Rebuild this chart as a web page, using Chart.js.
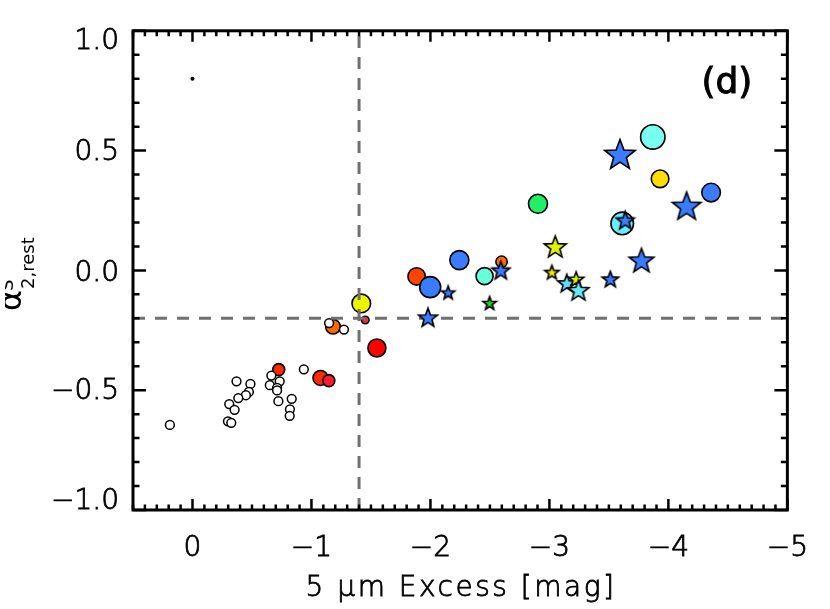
<!DOCTYPE html>
<html>
<head>
<meta charset="utf-8">
<script src="https://cdn.jsdelivr.net/npm/chart.js@4/dist/chart.umd.min.js"></script>
<style>
  html, body { margin:0; padding:0; background:#fff; }
</style>
</head>
<body>
<canvas id="c" width="830" height="609"></canvas>
<script>
// ── DATA ───────────────────────────────────────────────
const xMajor = [0, -1, -2, -3, -4, -5];
const yMajor = [-1.0, -0.5, 0.0, 0.5, 1.0];

// reference lines
const vLineX = -1.4;
const hLineY = -0.2;

// single black dot
const dotX = [0];
const dotY = [0.8];

// open (white) circles
const openX = [0.19, -0.37, -0.487, -0.474, -0.449, -0.385, -0.309, -0.354, -0.298, -0.326,
               -0.663, -0.733, -0.65, -0.711, -0.711, -0.722, -0.834, -0.819, -0.817, -0.936,
               -1.148, -1.273];
const openY = [-0.645, -0.463, -0.474, -0.507, -0.521, -0.533, -0.558, -0.582, -0.63, -0.636,
               -0.439, -0.463, -0.479, -0.49, -0.501, -0.546, -0.536, -0.58, -0.607, -0.413,
               -0.22, -0.247];

// filled circles
const circX = [-0.725, -1.076, -1.146, -1.181, -1.419, -1.452, -1.55, -1.884, -1.998, -2.243,
               -2.455, -2.598, -2.904, -3.612, -3.869, -3.93, -4.359];
const circY = [-0.414, -0.449, -0.46, -0.235, -0.138, -0.207, -0.324, -0.025, -0.07, 0.043,
               -0.024, 0.036, 0.278, 0.196, 0.557, 0.382, 0.325];
const circR = [6, 7.5, 6, 7.3, 9.3, 3.8, 9, 8.7, 10.5, 9.5,
               8.5, 5.7, 9.5, 11.3, 12.2, 8.8, 9.3];
const circColor = ['#ff2a00', '#ff2a00', '#ff1a30', '#ff6a00', '#eef500', '#ee3030', '#ff0000',
                   '#ff4400', '#3a7bff', '#3a7bff', '#66ffd8', '#ff6a00', '#22ee66', '#66eeff',
                   '#77fff0', '#ffdd00', '#3a7bff'];

// stars
const starX = [-1.979, -2.149, -2.497, -2.592, -3.049, -3.021, -3.146, -3.225, -3.244, -3.512,
               -3.774, -3.637, -3.593, -4.153];
const starY = [-0.196, -0.092, -0.136, 0.001, 0.1, -0.007, -0.053, -0.036, -0.082, -0.036,
               0.043, 0.21, 0.486, 0.27];
const starR = [10, 7, 7, 9.5, 11.5, 7.5, 9.6, 8, 11, 8.6, 13, 9.5, 16, 15];
const starColor = ['#3a7bff', '#3a7bff', '#22cc22', '#3a7bff', '#e2f500', '#eeee00', '#66ddff',
                   '#e2f500', '#66e8ff', '#3a7bff', '#3a7bff', '#3a7bff', '#3a7bff', '#3a7bff'];

// y label nudges (IDL keeps end labels inside the box)
const yLabelShift = [-8, 2, 3, 2, 11];

// ── HELPERS ────────────────────────────────────────────
const FONT = '"DejaVu Sans", sans-serif';
const minus = v => (v < 0 ? '\u2212' : '') + Math.abs(v);
const pts = (xs, ys) => xs.map((x, i) => ({ x, y: ys[i] }));

function starImage(r, fill) {
  const s = Math.ceil(r * 2 + 4);
  const c = document.createElement('canvas');
  c.width = c.height = s;
  const g = c.getContext('2d');
  g.translate(s / 2, s / 2 + r * 0.09);
  g.beginPath();
  for (let k = 0; k < 10; k++) {
    const rad = k % 2 ? r * 0.42 : r;
    const ang = -Math.PI / 2 + k * Math.PI / 5;
    g.lineTo(rad * Math.cos(ang), rad * Math.sin(ang));
  }
  g.closePath();
  g.fillStyle = fill;
  g.fill();
  g.lineWidth = 1.6;
  g.strokeStyle = '#000';
  g.stroke();
  return c;
}

// ── FRAME, TICKS, TEXT ─────────────────────────────────
const decor = {
  id: 'decor',
  beforeDraw(chart) {
    const items = chart.scales.y.getLabelItems(chart.chartArea);
    items.forEach((it, i) => { it.options.translation[1] += yLabelShift[i] || 0; });
  },
  afterDraw(chart) {
    const { ctx, chartArea: a, scales: { x, y } } = chart;
    ctx.save();
    ctx.strokeStyle = '#000';
    ctx.lineWidth = 2.5;
    ctx.beginPath();
    for (let i = -50; i <= 5; i++) {
      const px = x.getPixelForValue(i / 10);
      const len = i % 10 === 0 ? 11 : 5.5;
      ctx.moveTo(px, a.bottom); ctx.lineTo(px, a.bottom - len);
      ctx.moveTo(px, a.top);    ctx.lineTo(px, a.top + len);
    }
    for (let i = -10; i <= 10; i++) {
      const py = y.getPixelForValue(i / 10);
      const len = i % 5 === 0 ? 13 : 6.5;
      ctx.moveTo(a.left, py);  ctx.lineTo(a.left + len, py);
      ctx.moveTo(a.right, py); ctx.lineTo(a.right - len, py);
    }
    ctx.stroke();
    ctx.lineWidth = 3;
    ctx.strokeRect(a.left, a.top, a.right - a.left, a.bottom - a.top);

    ctx.fillStyle = '#000';
    // panel label
    ctx.font = '36px ' + FONT;
    ctx.textAlign = 'right';
    ctx.textBaseline = 'alphabetic';
    ctx.lineWidth = 1;
    ctx.fillText('(d)', a.right - 35, 93);
    ctx.strokeText('(d)', a.right - 35, 93);

    // x title
    ctx.font = '300 28px ' + FONT;
    ctx.textAlign = 'center';
    ctx.letterSpacing = '2.5px';
    ctx.lineWidth = 0.8;
    ctx.fillText('5 \u03bcm Excess [mag]', 461, 596);
    ctx.strokeText('5 \u03bcm Excess [mag]', 461, 596);
    ctx.letterSpacing = '0px';

    // y title (rotated)
    ctx.save();
    ctx.beginPath();
    ctx.rect(5, 0, 200, 609);
    ctx.clip();
    ctx.translate(21, 311);
    ctx.rotate(-Math.PI / 2);
    ctx.textAlign = 'left';
    ctx.font = '32px ' + FONT;
    ctx.fillText('\u03b1', 0, 0);
    const w = ctx.measureText('\u03b1').width + 1;
    ctx.font = '18px ' + FONT;
    ctx.fillText('2,rest', w, 13);
    ctx.fillText('S', w - 2, -8);
    ctx.restore();
    ctx.restore();
  }
};

// ── CHART ──────────────────────────────────────────────
const tickFont = { family: FONT, size: 28, weight: 300 };

new Chart(document.getElementById('c'), {
  type: 'scatter',
  data: {
    datasets: [
      {
        data: pts(circX, circY),
        pointRadius: circR,
        pointBackgroundColor: circColor,
        pointBorderColor: '#000',
        pointBorderWidth: 1.6,
        order: 5
      },
      {
        data: pts(openX, openY),
        pointRadius: 4.4,
        pointBackgroundColor: '#fff',
        pointBorderColor: '#000',
        pointBorderWidth: 1.5,
        order: 4
      },
      {
        type: 'line',
        data: [{ x: vLineX, y: -1 }, { x: vLineX, y: 1 }],
        borderColor: '#707070', borderWidth: 3, borderDash: [12, 9],
        pointRadius: 0, fill: false, order: 3
      },
      {
        type: 'line',
        data: [{ x: 0.5, y: hLineY }, { x: -5, y: hLineY }],
        borderColor: '#707070', borderWidth: 3, borderDash: [12, 10],
        pointRadius: 0, fill: false, order: 3
      },
      {
        data: pts(starX, starY),
        pointRadius: starR,
        pointStyle: starR.map((r, i) => starImage(r, starColor[i])),
        order: 2
      },
      {
        data: pts(dotX, dotY),
        pointRadius: 2,
        pointBackgroundColor: '#000',
        pointBorderColor: '#000',
        pointBorderWidth: 0,
        order: 1
      }
    ]
  },
  options: {
    responsive: false,
    animation: false,
    events: [],
    layout: { padding: { top: 29, right: 40, left: 0, bottom: 0 } },
    plugins: { legend: { display: false }, tooltip: { enabled: false } },
    scales: {
      x: {
        type: 'linear', min: -5, max: 0.5, reverse: true,
        afterBuildTicks: s => { s.ticks = xMajor.map(v => ({ value: v })); },
        afterFit: s => { s.height = 99; },
        ticks: { callback: v => minus(v), color: '#000', font: tickFont,
                 textStrokeColor: '#000', textStrokeWidth: 0.8,
                 padding: 22, maxRotation: 0, autoSkip: false },
        grid: { display: false, drawTicks: false },
        border: { display: false }
      },
      y: {
        type: 'linear', min: -1, max: 1,
        afterBuildTicks: s => { s.ticks = yMajor.map(v => ({ value: v })); },
        afterFit: s => { s.width = 133; },
        ticks: { callback: v => (v < 0 ? '\u2212' : '') + Math.abs(v).toFixed(1), color: '#000',
                 font: tickFont, textStrokeColor: '#000', textStrokeWidth: 0.8,
                 padding: 14, autoSkip: false },
        grid: { display: false, drawTicks: false },
        border: { display: false }
      }
    }
  },
  plugins: [decor]
});
</script>
</body>
</html>
